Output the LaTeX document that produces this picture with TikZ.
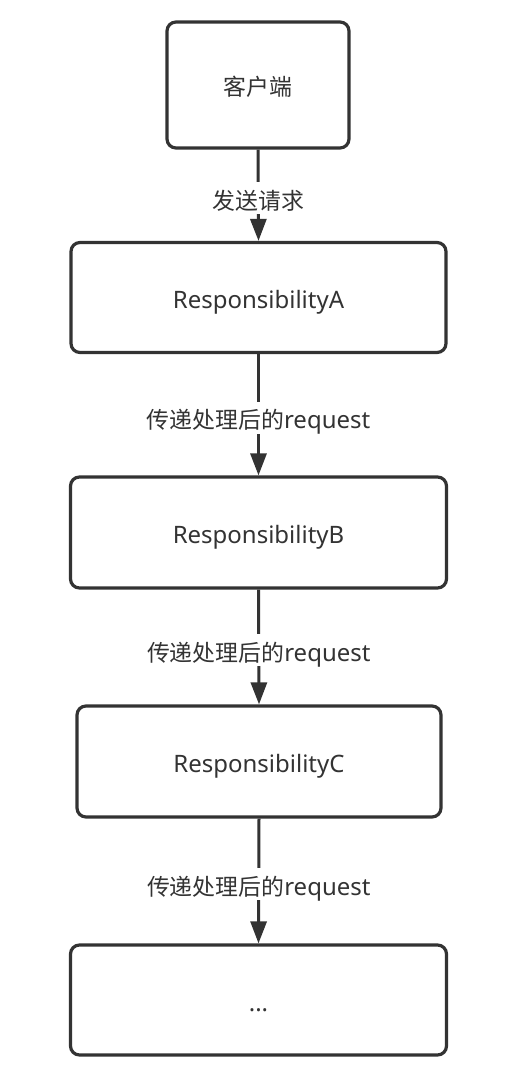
\documentclass[tikz,border=0pt]{standalone}
\usepackage{fontspec}
\setmainfont{Noto Sans}[Scale=1.09]
\newfontfamily\cjk{Noto Sans CJK SC}[Scale=1.04]
\usetikzlibrary{arrows.meta}
\definecolor{ink}{HTML}{333333}
\tikzset{
  box/.style={draw=ink, line width=3.2pt, rounded corners=9pt, fill=white, inner sep=0pt,
    text=ink, font=\fontsize{22}{24}\selectfont, text height=22pt, text depth=0pt},
  arr/.style={draw=ink, line width=3pt, -{Triangle[length=22pt,width=16pt]}},
  lbl/.style={fill=white, inner sep=0pt, minimum height=32pt, text=ink,
    font=\fontsize{22}{24}\selectfont, text height=22pt, text depth=0pt, yshift=-3pt}
}
\begin{document}
\begin{tikzpicture}[x=1pt,y=-1pt]
\useasboundingbox (0,0) rectangle (515,1075);
\node[box, minimum width=182pt, minimum height=126pt] (k) at (258,85) {\cjk 客户端};
\node[box, minimum width=375pt, minimum height=110pt] (a) at (258.5,297.5) {ResponsibilityA};
\node[box, minimum width=376pt, minimum height=111pt] (b) at (258.5,532.5) {ResponsibilityB};
\node[box, minimum width=364pt, minimum height=111pt] (c) at (259,761.5) {ResponsibilityC};
\node[box, minimum width=376pt, minimum height=110pt] (d) at (258.5,1000) {...};
\draw[arr] (k.south) -- node[lbl] (l1) {\cjk 发送请求} (a.north);
\draw[arr] (a.south) -- node[lbl] (l2) {{\cjk 传递处理后的}request} (b.north);
\draw[arr] (b.south) -- node[lbl] (l3) {{\cjk 传递处理后的}request} (c.north);
\draw[arr] (c.south) -- node[lbl] (l4) {{\cjk 传递处理后的}request} (d.north);
\end{tikzpicture}
\end{document}
